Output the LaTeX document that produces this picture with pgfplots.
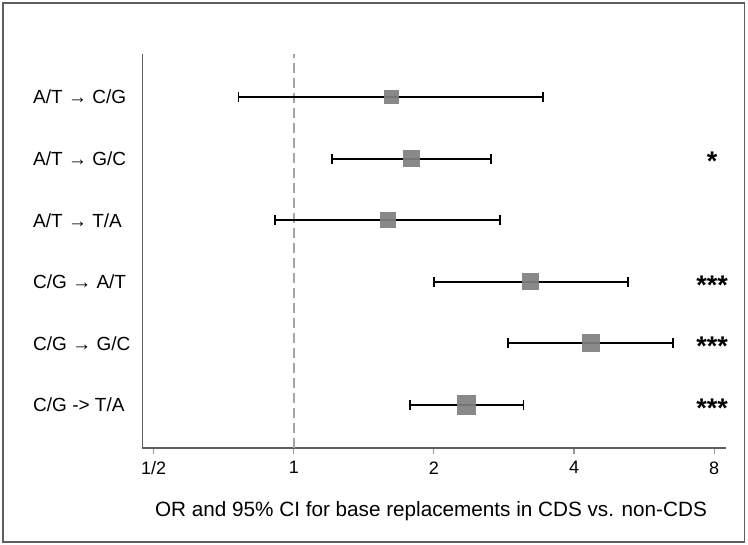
\documentclass[border=0pt]{standalone}
\usepackage{fontspec}
\setmainfont{Liberation Sans}
\usepackage{pgfplots}
\pgfplotsset{compat=1.18}
\usetikzlibrary{arrows.meta}
\definecolor{sqgray}{RGB}{128,128,128}
\definecolor{axgray}{RGB}{95,95,95}
\definecolor{refgray}{RGB}{165,165,165}
\definecolor{tickgray}{RGB}{150,150,150}
\pgfplotsset{
  ci/.style={black, line width=1.9pt, arrows={Bar[width=10pt]-Bar[width=10pt]}},
  est/.style={color=sqgray, only marks, mark=square*, mark options={solid, fill=sqgray, draw=sqgray, line width=0pt, fill opacity=0.93, draw opacity=0}},
}
\begin{document}
\begin{tikzpicture}
\path[use as bounding box] (0pt,0pt) rectangle (748pt,-545pt);
\draw[color=axgray, line width=1.2pt] (3pt,-3pt) rectangle (744.5pt,-542pt);
\begin{axis}[
  at={(142.3pt,-448pt)}, anchor=south west,
  scale only axis, width=583.4pt, height=394pt,
  xmode=log, log basis x=2,
  xmin=0.4726, xmax=8.471, ymin=0.3, ymax=6.7,
  axis x line*=bottom, axis y line*=left,
  axis line style={-, line width=1.2pt, color=axgray},
  xtick={0.5,1,2,4,8}, xticklabels={1/2,1,2,4,8},
  ytick={1,2,3,4,5,6},
  yticklabels={{C/G -> T/A},{C/G → G/C},{C/G → A/T},{A/T → T/A},{A/T → G/C},{A/T → C/G}},
  tick align=outside, major tick length=6pt,
  xtick style={color=tickgray, line width=1.2pt},
  ytick style={draw=none},
  xticklabel style={font=\fontsize{18}{20}\selectfont, yshift=-4pt},
  yticklabel style={font=\fontsize{19}{22}\selectfont, anchor=west, inner sep=0pt, xshift=-103.3pt},
  xlabel={OR and 95\% CI for base replacements in CDS vs. non-CDS},
  xlabel style={font=\fontsize{20.7}{24}\selectfont, at={(axis description cs:0.5,0)}, anchor=center, yshift=-63pt, xshift=-3pt},
  clip=false,
]
\addplot[refgray, line width=1.6pt, dash pattern=on 10pt off 5pt] coordinates {(1,0.3) (1,6.7)};
% CIs
\addplot[ci] coordinates {(0.757,6) (3.45,6)};
\addplot[ci] coordinates {(1.20,5) (2.66,5)};
\addplot[ci] coordinates {(0.907,4) (2.79,4)};
\addplot[ci] coordinates {(1.99,3) (5.24,3)};
\addplot[ci] coordinates {(2.87,2) (6.56,2)};
\addplot[ci] coordinates {(1.77,1) (3.13,1)};
% point estimates
\addplot[est, mark size=7.35pt] coordinates {(1.62,6)};
\addplot[est, mark size=8.65pt] coordinates {(1.79,5)};
\addplot[est, mark size=8pt] coordinates {(1.59,4)};
\addplot[est, mark size=8.5pt] coordinates {(3.23,3)};
\addplot[est, mark size=9pt] coordinates {(4.34,2)};
\addplot[est, mark size=9.85pt] coordinates {(2.35,1)};
% significance
\addplot[draw=none, mark=none, nodes near coords, point meta=explicit symbolic,
  nodes near coords style={font=\fontsize{27}{29}\bfseries, anchor=center, xshift=-2pt, yshift=-3pt, inner sep=0pt}]
  coordinates {(8,5)[*] (8,3)[***] (8,2)[***] (8,1)[***]};
\end{axis}
\end{tikzpicture}
\end{document}
